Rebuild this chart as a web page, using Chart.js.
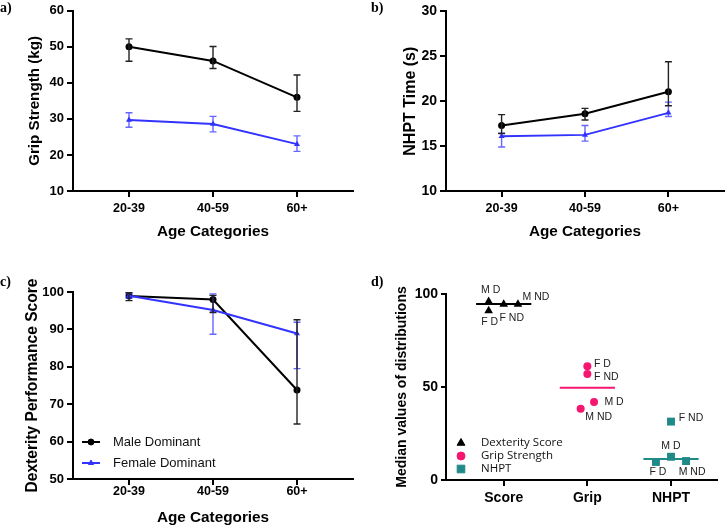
<!DOCTYPE html>
<html>
<head>
<meta charset="utf-8">
<script src="https://cdn.jsdelivr.net/npm/chart.js@4.4.0/dist/chart.umd.min.js"></script>
<style>
  body { margin: 0; background: #fff; width: 728px; height: 527px; position: relative; overflow: hidden; }
  .panel { position: absolute; }
  .tag { position: absolute; font: bold 14px "Liberation Serif", "Times New Roman", serif; line-height: 16px; }
</style>
</head>
<body>
<div class="panel" style="left:0;top:0;width:364px;height:258px"><canvas id="canvas-a"></canvas></div>
<div class="panel" style="left:364px;top:0;width:364px;height:258px"><canvas id="canvas-b"></canvas></div>
<div class="panel" style="left:0;top:260px;width:364px;height:267px"><canvas id="canvas-c"></canvas></div>
<div class="panel" style="left:364px;top:260px;width:364px;height:267px"><canvas id="canvas-d"></canvas></div>
<div class="tag" style="left:0;top:0">a)</div>
<div class="tag" style="left:371px;top:0">b)</div>
<div class="tag" style="left:0;top:274px">c)</div>
<div class="tag" style="left:371px;top:274px">d)</div>
<script>
/* global Chart */

// age categories (panels a-c)
const ageCategories = ['20-39', '40-59', '60+'];

// a) grip strength
const gripMale = [50, 46.1, 36];
const gripMaleLow = [46, 44, 32.1];
const gripMaleHigh = [52.2, 50.1, 42.2];
const gripFemale = [29.7, 28.6, 23];
const gripFemaleLow = [27.7, 26.4, 21];
const gripFemaleHigh = [31.7, 30.7, 25.3];

// b) NHPT time
const nhptMale = [17.3, 18.6, 21.05];
const nhptMaleLow = [16.4, 17.9, 19.5];
const nhptMaleHigh = [18.5, 19.2, 24.4];
const nhptFemale = [16.1, 16.25, 18.7];
const nhptFemaleLow = [14.9, 15.55, 18.3];
const nhptFemaleHigh = [16.45, 17.3, 19.9];

// c) dexterity score
const dexMale = [98.9, 98, 73.8];
const dexMaleLow = [97.7, 94.5, 64.7];
const dexMaleHigh = [99.8, 99.1, 92.6];
const dexFemale = [99, 95.2, 88.9];
const dexFemaleLow = [98.4, 88.7, 79.5];
const dexFemaleHigh = [99.6, 99.5, 91.9];

// d) medians of distributions
const measureCategories = ['Score', 'Grip', 'NHPT'];
const groupNames = ['M D', 'F D', 'F ND', 'M ND'];
const scoreMedians = [96, 91, 94.5, 94.5];
const scoreJitter = [-0.18, -0.18, 0, 0.17];
const gripMedians = [42, 61.1, 57, 38.3];
const gripJitter = [0.08, 0, 0, -0.08];
const nhptMedians = [12.5, 9.7, 31.4, 10.2];
const nhptJitter = [0, -0.18, 0, 0.18];
const overallMedians = [94.6, 49.6, 11.3];

// label placement in panel d, px from the point [dx, dy]
const scoreLabelShift = [[2, -11], [1, 11], [8, 14], [18, -7]];
const gripLabelShift = [[20, 0], [15, -2], [19, 3], [18, 8]];
const nhptLabelShift = [[0, -11], [2, 10], [20, -3], [6, 11]];

const BLACK = '#000000';
const BLUE = '#3333ff';
const PINK = '#f5166f';
const TEAL = '#1f8a88';
const SANS = '"Liberation Sans", Arial, sans-serif';

Chart.defaults.font.family = SANS;
Chart.defaults.color = BLACK;
Chart.defaults.animation = false;

const errorBars = {
  id: 'errorBars',
  afterDatasetsDraw(chart) {
    const { ctx } = chart;
    const xs = chart.scales.x;
    const ys = chart.scales.y;
    chart.data.datasets.forEach(ds => {
      if (!ds.errLow) return;
      ctx.save();
      ctx.strokeStyle = ds.errColor;
      ctx.lineWidth = 1.4;
      ds.data.forEach((p, i) => {
        const x = xs.getPixelForValue(p.x);
        const y1 = ys.getPixelForValue(ds.errLow[i]);
        const y2 = ys.getPixelForValue(ds.errHigh[i]);
        ctx.beginPath();
        ctx.moveTo(x, y1); ctx.lineTo(x, y2);
        ctx.moveTo(x - 3.5, y1); ctx.lineTo(x + 3.5, y1);
        ctx.moveTo(x - 3.5, y2); ctx.lineTo(x + 3.5, y2);
        ctx.stroke();
      });
      ctx.restore();
    });
  }
};

const pointLabels = {
  id: 'pointLabels',
  afterDatasetsDraw(chart) {
    const { ctx } = chart;
    ctx.save();
    ctx.font = '10.5px ' + SANS;
    ctx.fillStyle = '#222';
    ctx.textAlign = 'center';
    ctx.textBaseline = 'middle';
    chart.data.datasets.forEach((ds, di) => {
      if (!ds.names) return;
      chart.getDatasetMeta(di).data.forEach((pt, i) => {
        ctx.fillText(ds.names[i], pt.x + ds.shift[i][0], pt.y + ds.shift[i][1]);
      });
    });
    ctx.restore();
  }
};

const insetLegend = {
  id: 'insetLegend',
  afterDraw(chart, args, opts) {
    if (!opts.items) return;
    const { ctx, chartArea } = chart;
    ctx.save();
    opts.items.forEach((it, i) => {
      const y = chartArea.bottom + opts.rows[i];
      const x0 = chartArea.left + opts.x;
      if (opts.line) {
        ctx.strokeStyle = it.color;
        ctx.lineWidth = 2;
        ctx.beginPath();
        ctx.moveTo(x0 - 9, y); ctx.lineTo(x0 + 9, y);
        ctx.stroke();
      }
      ctx.fillStyle = it.color;
      ctx.strokeStyle = it.color;
      ctx.lineWidth = 1;
      Chart.helpers.drawPoint(ctx, { pointStyle: it.style, radius: it.radius, borderWidth: 1 }, x0, y);
      ctx.fillStyle = '#111';
      ctx.font = opts.font;
      ctx.textBaseline = 'middle';
      ctx.fillText(it.text, x0 + opts.gap, y);
    });
    ctx.restore();
  }
};

function xAxis(labels, min, max, fontSize, tickPad, title, titlePad, height) {
  return {
    type: 'linear',
    min: min,
    max: max,
    afterBuildTicks: s => { s.ticks = labels.map((l, i) => ({ value: i })); },
    afterFit: s => { s.height = height; },
    ticks: {
      callback: v => labels[v],
      font: { size: fontSize, weight: 'bold' },
      padding: tickPad,
      autoSkip: false,
      maxRotation: 0
    },
    grid: { drawOnChartArea: false, color: BLACK, lineWidth: 2, tickLength: 6 },
    border: { color: BLACK, width: 2 },
    title: {
      display: !!title,
      text: title,
      font: { size: 15.3, weight: 'bold' },
      padding: { top: 0, bottom: titlePad }
    }
  };
}

function yAxis(min, max, step, fontSize, title, titleSize, titlePad, width, tickLen) {
  return {
    min: min,
    max: max,
    afterFit: s => { s.width = width; },
    ticks: { stepSize: step, font: { size: fontSize, weight: 'bold' }, padding: 3 },
    grid: { drawOnChartArea: false, color: BLACK, lineWidth: 2, tickLength: tickLen },
    border: { color: BLACK, width: 2 },
    title: {
      display: true,
      text: title,
      font: { size: titleSize, weight: 'bold' },
      padding: { top: titlePad, bottom: 0 }
    }
  };
}

function sexDatasets(male, maleLow, maleHigh, female, femaleLow, femaleHigh) {
  return [{
    label: 'Female Dominant',
    data: female.map((v, i) => ({ x: i, y: v })),
    borderColor: BLUE,
    backgroundColor: BLUE,
    borderWidth: 2,
    pointStyle: 'triangle',
    pointRadius: 3.5,
    pointBorderWidth: 0,
    errLow: femaleLow,
    errHigh: femaleHigh,
    errColor: 'rgba(51, 51, 255, 0.75)'
  }, {
    label: 'Male Dominant',
    data: male.map((v, i) => ({ x: i, y: v })),
    borderColor: BLACK,
    backgroundColor: BLACK,
    borderWidth: 2,
    pointStyle: 'circle',
    pointRadius: 3.5,
    pointBorderWidth: 0,
    errLow: maleLow,
    errHigh: maleHigh,
    errColor: '#222'
  }];
}

// eslint-disable-next-line no-unused-vars
const chartA = new Chart(document.getElementById('canvas-a'), {
  type: 'line',
  data: { datasets: sexDatasets(gripMale, gripMaleLow, gripMaleHigh, gripFemale, gripFemaleLow, gripFemaleHigh) },
  plugins: [errorBars],
  options: {
    responsive: true,
    maintainAspectRatio: false,
    layout: { padding: { top: 6, right: 11, left: 0, bottom: 0 } },
    plugins: { legend: { display: false }, tooltip: { enabled: false } },
    scales: {
      x: xAxis(ageCategories, -2 / 3, 8 / 3, 12.5, 4, 'Age Categories', 17, 67),
      y: yAxis(10, 60, 10, 13, 'Grip Strength (kg)', 15.2, 26, 73, 6)
    }
  }
});

// eslint-disable-next-line no-unused-vars
const chartB = new Chart(document.getElementById('canvas-b'), {
  type: 'line',
  data: { datasets: sexDatasets(nhptMale, nhptMaleLow, nhptMaleHigh, nhptFemale, nhptFemaleLow, nhptFemaleHigh) },
  plugins: [errorBars],
  options: {
    responsive: true,
    maintainAspectRatio: false,
    layout: { padding: { top: 6, right: 2, left: 0, bottom: 0 } },
    plugins: { legend: { display: false }, tooltip: { enabled: false } },
    scales: {
      x: xAxis(ageCategories, -2 / 3, 8 / 3, 12.5, 4, 'Age Categories', 17, 67),
      y: yAxis(10, 30, 5, 14, 'NHPT Time (s)', 16, 37.4, 82, 6)
    }
  }
});

// eslint-disable-next-line no-unused-vars
const chartC = new Chart(document.getElementById('canvas-c'), {
  type: 'line',
  data: { datasets: sexDatasets(dexMale, dexMaleLow, dexMaleHigh, dexFemale, dexFemaleLow, dexFemaleHigh) },
  plugins: [errorBars, insetLegend],
  options: {
    responsive: true,
    maintainAspectRatio: false,
    layout: { padding: { top: 32, right: 11, left: 0, bottom: 0 } },
    plugins: {
      legend: { display: false },
      tooltip: { enabled: false },
      insetLegend: {
        line: true,
        x: 18,
        gap: 22,
        rows: [-37, -16],
        font: '13px ' + SANS,
        items: [
          { text: 'Male Dominant', color: BLACK, style: 'circle', radius: 3 },
          { text: 'Female Dominant', color: BLUE, style: 'triangle', radius: 3 }
        ]
      }
    },
    scales: {
      x: xAxis(ageCategories, -2 / 3, 8 / 3, 12.5, -1, 'Age Categories', 0, 48),
      y: yAxis(50, 100, 10, 13, 'Dexterity Performance Score', 15.6, 23.6, 73, 6)
    }
  }
});

function medianLine(i, color) {
  return {
    type: 'line',
    data: [{ x: i - 0.33, y: overallMedians[i] }, { x: i + 0.33, y: overallMedians[i] }],
    borderColor: color,
    borderWidth: 2,
    pointRadius: 0,
    showLine: true
  };
}

function medianPoints(i, values, jitter, shift, color, style, radius) {
  return {
    data: values.map((v, k) => ({ x: i + jitter[k], y: v })),
    backgroundColor: color,
    borderColor: color,
    borderWidth: 0,
    pointStyle: style,
    pointRadius: radius,
    names: groupNames,
    shift: shift
  };
}

// eslint-disable-next-line no-unused-vars
const chartD = new Chart(document.getElementById('canvas-d'), {
  type: 'scatter',
  data: {
    datasets: [
      medianLine(0, BLACK),
      medianLine(1, PINK),
      medianLine(2, TEAL),
      medianPoints(0, scoreMedians, scoreJitter, scoreLabelShift, BLACK, 'triangle', 5),
      medianPoints(1, gripMedians, gripJitter, gripLabelShift, PINK, 'circle', 4),
      medianPoints(2, nhptMedians, nhptJitter, nhptLabelShift, TEAL, 'rect', 5.6)
    ]
  },
  plugins: [pointLabels, insetLegend],
  options: {
    responsive: true,
    maintainAspectRatio: false,
    layout: { padding: { top: 34, right: 11, left: 0, bottom: 0 } },
    plugins: {
      legend: { display: false },
      tooltip: { enabled: false },
      insetLegend: {
        line: false,
        x: 15,
        gap: 20,
        rows: [-37, -24, -11],
        font: '11.5px "Open Sans", ' + SANS,
        items: [
          { text: 'Dexterity Score', color: BLACK, style: 'triangle', radius: 4.5 },
          { text: 'Grip Strength', color: PINK, style: 'circle', radius: 4 },
          { text: 'NHPT', color: TEAL, style: 'rect', radius: 5.4 }
        ]
      }
    },
    scales: {
      x: xAxis(measureCategories, -0.69, 2.55, 14, 4, '', 0, 47),
      y: yAxis(0, 100, 50, 14, 'Median values of distributions', 14, 29.6, 82, 5)
    }
  }
});
</script>
</body>
</html>
